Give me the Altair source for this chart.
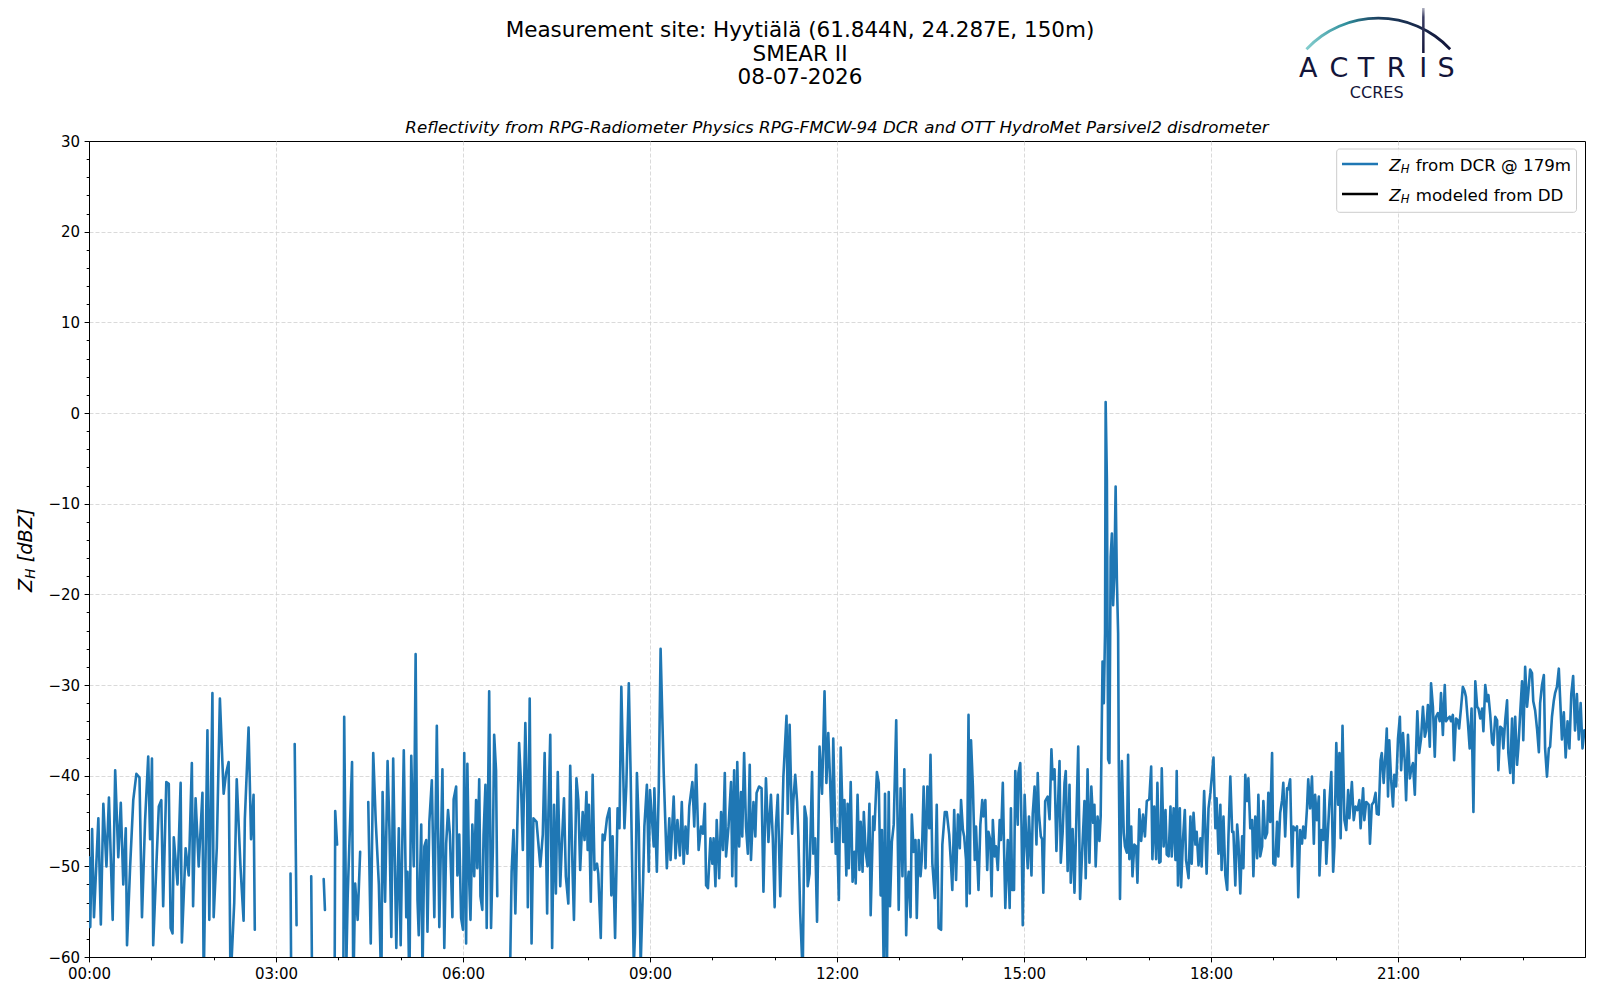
import altair as alt
import pandas as pd

# ---------------- data: (hour of day, Z_H in dBZ); None = no radar data ----------------
block_00_03 = [(0.00,-49.0),(0.02,-56.7),(0.05,-45.9),(0.08,-55.6),(0.15,-44.7),(0.19,-56.4),(0.23,-43.1),
 (0.28,-50.0),(0.32,-42.4),(0.38,-55.9),(0.42,-39.4),(0.47,-49.0),(0.51,-43.0),(0.55,-52.0),(0.59,-45.8),
 (0.61,-58.7),(0.66,-50.0),(0.71,-42.7),(0.76,-39.8),(0.81,-40.2),(0.85,-55.6),(0.90,-44.9),(0.95,-37.9),
 (0.98,-47.0),(1.01,-38.1),(1.03,-58.7),(1.08,-50.0),(1.12,-43.4),(1.16,-42.7),(1.19,-54.4),(1.24,-40.7),
 (1.28,-40.9),(1.31,-56.8),(1.34,-57.4),(1.36,-46.8),(1.42,-52.0),(1.47,-40.8),(1.49,-58.4),(1.55,-48.0),
 (1.60,-51.0),(1.65,-38.6),(1.67,-54.4),(1.71,-42.5),(1.76,-50.0),(1.82,-41.9),(1.84,-63.0),(1.90,-35.0),
 (1.93,-55.9),(1.98,-30.9),(2.00,-55.6),(2.05,-48.0),(2.10,-31.5),(2.16,-42.0),(2.20,-39.7),(2.24,-38.5),
 (2.27,-63.0),(2.33,-54.0),(2.37,-40.4),(2.43,-50.0),(2.48,-56.0),(2.50,-44.8),(2.56,-34.7),(2.60,-47.0),
 (2.64,-42.1),(2.66,-57.0),(2.70,None)]

block_03_05 = [(3.233,-50.8),(3.245,-64.0),(3.27,None),(3.30,-36.5),(3.33,-56.5),(3.45,None),
 (3.565,-51.1),(3.58,-64.0),(3.65,None),(3.765,-51.4),(3.785,-54.8),(3.85,None),
 (3.94,-64.0),(3.95,-43.9),(3.98,-47.6),(4.03,None),
 (4.08,-64.0),(4.094,-33.5),(4.13,-60.5),(4.15,-53.3),(4.22,-38.5),(4.24,-64.0),(4.27,-51.9),
 (4.31,-55.9),(4.35,-48.4),(4.41,None)]

block_04_07 = [(4.48,-42.9),(4.52,-58.5),(4.56,-37.5),(4.60,-45.0),(4.65,-52.0),(4.69,-64.0),(4.71,-41.8),
 (4.75,-53.9),(4.79,-38.4),(4.82,-46.0),(4.85,-57.8),(4.88,-38.1),(4.93,-59.0),(4.97,-45.8),(5.00,-58.7),
 (5.05,-37.2),(5.09,-55.6),(5.11,-50.6),(5.14,-64.0),(5.17,-37.8),(5.21,-50.0),(5.24,-26.6),(5.27,-53.7),
 (5.29,-57.6),(5.33,-45.4),(5.35,-62.0),(5.38,-47.8),(5.41,-47.1),(5.43,-57.2),(5.46,-45.1),(5.50,-40.5),
 (5.54,-55.6),(5.58,-34.5),(5.62,-56.7),(5.67,-39.3),(5.70,-59.0),(5.73,-47.5),(5.76,-43.8),(5.79,-46.5),
 (5.83,-55.6),(5.85,-42.6),(5.89,-41.2),(5.91,-51.0),(5.94,-46.5),(5.97,-55.7),(6.00,-57.0),(6.02,-37.5),
 (6.05,-58.5),(6.07,-38.7),(6.10,-51.7),(6.12,-55.9),(6.15,-45.4),(6.18,-51.1),(6.21,-42.7),(6.23,-50.2),
 (6.26,-40.4),(6.28,-53.3),(6.31,-54.8),(6.33,-46.5),(6.36,-41.0),(6.38,-56.8),(6.42,-30.7),(6.45,-56.8),
 (6.48,-47.8),(6.50,-35.5),(6.53,-39.4),(6.55,-53.3),(6.65,None)]

block_07_09 = [(6.75,-64.0),(6.78,-50.6),(6.81,-46.0),(6.84,-55.2),(6.90,-36.4),(6.93,-40.7),(6.96,-48.2),
 (7.00,-34.2),(7.03,-43.0),(7.04,-54.5),(7.07,-31.5),(7.10,-58.5),(7.13,-44.7),(7.18,-45.1),(7.24,-50.0),
 (7.28,-46.5),(7.31,-37.5),(7.35,-55.2),(7.37,-44.2),(7.40,-35.5),(7.43,-59.0),(7.46,-43.2),(7.49,-53.0),
 (7.52,-39.6),(7.56,-52.2),(7.59,-46.9),(7.62,-42.5),(7.65,-51.1),(7.69,-54.1),(7.72,-38.9),(7.76,-51.1),
 (7.78,-55.9),(7.82,-40.3),(7.85,-42.7),(7.88,-50.4),(7.92,-44.0),(7.95,-47.1),(7.98,-41.8),(8.00,-48.2),
 (8.02,-43.2),(8.05,-53.9),(8.08,-39.9),(8.11,-50.4),(8.15,-49.7),(8.17,-50.8),(8.21,-57.9),(8.24,-46.5),
 (8.27,-47.1),(8.31,-44.7),(8.35,-43.6),(8.38,-53.2),(8.40,-46.7),(8.44,-57.9),(8.48,-43.6),(8.51,-45.8),
 (8.54,-30.2),(8.59,-45.8),(8.62,-41.2),(8.66,-29.8),(8.69,-40.1),(8.74,-61.0),(8.76,-57.4),(8.79,-39.7),
 (8.82,-45.6),(8.85,-61.0),(8.89,-51.5),(8.91,-45.6),(8.95,-41.0),(8.98,-50.6)]

block_09_12 = [(9.00,-41.6),(9.06,-47.8),(9.07,-41.4),(9.11,-50.6),(9.14,-41.6),(9.17,-26.0),(9.22,-39.7),
 (9.27,-50.2),(9.31,-44.7),(9.33,-49.3),(9.38,-42.3),(9.41,-49.1),(9.44,-44.9),(9.48,-48.8),(9.51,-42.9),
 (9.54,-49.7),(9.57,-45.6),(9.60,-48.6),(9.63,-43.4),(9.68,-40.7),(9.71,-45.6),(9.74,-38.8),(9.78,-48.2),
 (9.82,-45.6),(9.85,-46.4),(9.88,-43.1),(9.90,-52.1),(9.93,-52.4),(9.97,-46.9),(10.00,-49.7),(10.02,-46.9),
 (10.05,-52.2),(10.07,-44.9),(10.11,-51.3),(10.14,-44.0),(10.17,-48.2),(10.20,-39.7),(10.22,-48.9),
 (10.26,-45.6),(10.30,-40.7),(10.32,-51.1),(10.35,-39.4),(10.38,-52.2),(10.40,-38.5),(10.43,-47.8),
 (10.46,-41.8),(10.48,-46.7),(10.51,-37.5),(10.54,-45.6),(10.57,-48.6),(10.60,-38.8),(10.62,-49.3),
 (10.66,-42.9),(10.69,-46.7),(10.71,-41.9),(10.75,-41.2),(10.79,-41.4),(10.82,-52.8),(10.86,-40.3),
 (10.90,-47.3),(10.94,-42.1),(10.97,-46.9),(11.00,-54.5),(11.02,-45.6),(11.05,-42.1),(11.09,-53.3),
 (11.12,-45.6),(11.14,-40.1),(11.19,-33.4),(11.21,-44.2),(11.24,-34.4),(11.28,-46.4),(11.30,-42.7),
 (11.33,-39.9),(11.36,-42.9),(11.38,-46.7),(11.41,-55.2),(11.45,-62.0),(11.48,-43.4),(11.51,-44.7),
 (11.53,-52.2),(11.56,-50.8),(11.60,-39.6),(11.62,-48.6),(11.65,-46.9),(11.68,-56.1),(11.72,-36.8),
 (11.76,-42.0),(11.80,-30.7),(11.83,-40.8),(11.86,-35.3),(11.89,-40.7),(11.92,-47.3),(11.94,-35.9),
 (11.98,-48.6)]

block_12_15 = [(12.00,-45.8),(12.03,-53.7),(12.06,-36.9),(12.10,-47.3),(12.12,-42.7),(12.15,-51.0),
 (12.17,-43.1),(12.19,-50.2),(12.22,-40.7),(12.25,-51.7),(12.28,-48.4),(12.30,-51.9),(12.33,-42.1),
 (12.36,-50.4),(12.38,-45.1),(12.41,-50.6),(12.43,-44.0),(12.46,-48.4),(12.49,-50.0),(12.52,-43.1),
 (12.54,-55.4),(12.58,-44.5),(12.60,-46.0),(12.64,-39.6),(12.67,-40.8),(12.70,-53.2),(12.72,-46.0),
 (12.75,-62.0),(12.77,-42.0),(12.80,-62.0),(12.83,-41.8),(12.85,-54.4),(12.88,-47.3),(12.91,-45.4),
 (12.95,-33.9),(12.99,-54.8),(13.02,-41.4),(13.05,-51.1),(13.08,-39.3),(13.11,-57.6),(13.13,-52.2),
 (13.15,-50.6),(13.18,-55.6),(13.20,-44.3),(13.23,-48.4),(13.26,-47.1),(13.28,-55.7),(13.31,-47.1),
 (13.34,-51.1),(13.36,-49.3),(13.39,-41.2),(13.42,-50.2),(13.45,-41.2),(13.48,-45.8),(13.50,-37.7),
 (13.53,-49.7),(13.57,-53.5),(13.60,-43.2),(13.63,-56.8),(13.67,-57.0),(13.69,-47.6),(13.73,-44.0),
 (13.76,-44.0),(13.80,-46.5),(13.83,-49.9),(13.85,-52.6),(13.88,-43.8),(13.91,-51.5),(13.94,-44.3),
 (13.97,-48.0),(13.99,-42.7),(14.02,-46.0),(14.04,-46.7),(14.07,-49.3),(14.08,-54.4),(14.11,-33.3),
 (14.13,-53.0),(14.15,-36.1),(14.18,-41.2),(14.21,-49.3),(14.23,-45.6),(14.27,-52.6),(14.30,-45.4),
 (14.33,-42.7),(14.35,-44.5),(14.38,-42.7),(14.41,-50.4),(14.43,-46.2),(14.46,-47.1),(14.48,-53.3),
 (14.50,-44.9),(14.53,-48.9),(14.55,-47.8),(14.58,-50.4),(14.61,-44.9),(14.63,-47.1),(14.66,-40.8),
 (14.68,-48.0),(14.70,-54.6),(14.74,-47.1),(14.77,-54.6),(14.79,-43.6),(14.81,-52.6),(14.84,-52.6),
 (14.86,-39.5),(14.90,-45.4),(14.91,-39.7),(14.94,-38.6),(14.96,-45.4),(14.98,-56.5)]

block_15_18 = [(15.01,-42.1),(15.04,-47.8),(15.06,-50.2),(15.08,-44.5),(15.12,-51.0),(15.14,-44.2),
 (15.17,-41.2),(15.20,-47.6),(15.22,-39.7),(15.24,-44.2),(15.27,-46.7),(15.29,-47.0),(15.31,-52.9),
 (15.34,-42.8),(15.38,-42.3),(15.41,-44.8),(15.44,-37.1),(15.46,-40.4),(15.49,-39.3),(15.52,-48.3),
 (15.54,-44.3),(15.57,-38.4),(15.59,-49.6),(15.62,-46.3),(15.65,-40.8),(15.67,-39.5),(15.70,-50.5),
 (15.73,-41.0),(15.75,-51.8),(15.78,-45.9),(15.81,-52.9),(15.84,-44.8),(15.87,-36.8),(15.90,-53.6),
 (15.93,-48.9),(15.97,-42.8),(15.99,-51.3),(16.02,-39.3),(16.05,-49.6),(16.08,-41.2),(16.11,-45.2),
 (16.13,-43.2),(16.15,-50.0),(16.18,-44.5),(16.21,-47.2),(16.23,-44.5),(16.26,-27.4),(16.28,-32.0),
 (16.30,-24.3),(16.31,1.2),(16.33,-7.4),(16.35,-38.2),(16.37,-38.6),(16.39,-15.9),(16.41,-13.3),
 (16.43,-21.2),(16.45,-17.7),(16.47,-8.1),(16.49,-18.4),(16.51,-24.3),(16.52,-38.2),(16.54,-53.6),
 (16.57,-38.4),(16.60,-46.3),(16.62,-47.8),(16.65,-48.5),(16.67,-37.7),(16.69,-49.2),(16.72,-45.6),
 (16.74,-51.1),(16.77,-47.6),(16.80,-47.8),(16.82,-51.8),(16.85,-43.7),(16.88,-47.2),(16.91,-44.3),
 (16.94,-46.7),(16.97,-42.8),(17.01,-42.6),(17.04,-39.0),(17.06,-49.2),(17.09,-43.4),(17.12,-49.2),
 (17.14,-40.8),(17.17,-49.6),(17.19,-49.5),(17.21,-39.2),(17.24,-47.8),(17.27,-43.8),(17.29,-48.7),
 (17.32,-48.9),(17.35,-43.4),(17.37,-48.9),(17.40,-43.6),(17.43,-49.3),(17.45,-39.5),(17.47,-52.1),
 (17.50,-43.6),(17.52,-52.3),(17.55,-47.1),(17.58,-43.8),(17.60,-49.3),(17.64,-51.3),(17.67,-44.5),
 (17.69,-49.7),(17.72,-44.1),(17.75,-47.6),(17.77,-46.2),(17.80,-49.9),(17.83,-46.9),(17.85,-50.0),
 (17.89,-41.7),(17.93,-50.8),(17.96,-43.6),(17.99,-41.9)]

block_18_21 = [(18.04,-38.0),(18.07,-45.8),(18.09,-42.5),(18.12,-48.6),(18.15,-43.2),(18.17,-50.4),
 (18.20,-44.5),(18.23,-51.0),(18.26,-52.6),(18.28,-46.7),(18.31,-40.1),(18.34,-46.2),(18.36,-46.2),
 (18.39,-52.1),(18.42,-45.4),(18.44,-47.3),(18.47,-53.0),(18.50,-46.7),(18.52,-50.2),(18.55,-39.9),
 (18.58,-42.8),(18.60,-40.3),(18.63,-45.8),(18.66,-44.9),(18.68,-51.1),(18.71,-44.5),(18.74,-49.1),
 (18.76,-42.1),(18.79,-48.9),(18.82,-47.8),(18.84,-42.8),(18.87,-46.9),(18.90,-46.3),(18.92,-41.9),
 (18.95,-45.1),(18.98,-37.5),(19.00,-49.7),(19.03,-49.9),(19.06,-45.1),(19.08,-48.9),(19.11,-44.1),
 (19.14,-42.7),(19.16,-40.8),(19.19,-46.7),(19.22,-41.4),(19.24,-41.5),(19.27,-40.4),(19.30,-50.0),
 (19.32,-45.6),(19.35,-46.0),(19.38,-45.6),(19.40,-53.4),(19.43,-46.0),(19.46,-47.5),(19.48,-45.6),
 (19.51,-46.9),(19.54,-43.6),(19.56,-40.4),(19.59,-43.6),(19.62,-40.1),(19.65,-47.5),(19.67,-42.1),
 (19.70,-44.9),(19.73,-42.3),(19.74,-51.0),(19.77,-46.0),(19.80,-47.1),(19.82,-41.6),(19.85,-49.7),
 (19.88,-45.6),(19.90,-42.9),(19.93,-39.6),(19.96,-50.6),(19.98,-47.8),(20.01,-36.4),(20.04,-43.2),
 (20.06,-37.5),(20.08,-46.9),(20.11,-34.5),(20.14,-44.9),(20.17,-46.0),(20.20,-41.6),(20.22,-44.7),
 (20.26,-40.7),(20.29,-44.9),(20.32,-43.4),(20.35,-43.8),(20.38,-42.7),(20.40,-45.8),(20.44,-41.4),
 (20.46,-44.9),(20.49,-42.9),(20.53,-43.2),(20.55,-47.5),(20.58,-43.2),(20.61,-42.9),(20.64,-41.9),
 (20.66,-44.2),(20.69,-44.3),(20.72,-38.3),(20.74,-37.5),(20.77,-40.8),(20.80,-37.5),(20.82,-34.8),
 (20.84,-42.3),(20.86,-36.1),(20.89,-40.5),(20.92,-43.4),(20.94,-39.9),(20.97,-41.2)]

block_21_24 = [(21.00,-35.9),(21.03,-33.5),(21.05,-39.4),(21.08,-35.3),(21.11,-38.6),(21.13,-42.7),
 (21.16,-35.5),(21.19,-40.3),(21.21,-39.4),(21.24,-38.6),(21.27,-42.1),(21.29,-37.2),(21.31,-32.9),
 (21.34,-37.5),(21.37,-35.9),(21.40,-32.4),(21.43,-35.7),(21.45,-35.1),(21.48,-32.2),(21.51,-36.8),
 (21.53,-29.8),(21.56,-32.4),(21.59,-37.9),(21.61,-33.5),(21.64,-33.1),(21.67,-34.0),(21.69,-30.9),
 (21.72,-35.5),(21.75,-30.0),(21.77,-34.0),(21.80,-33.7),(21.83,-33.5),(21.85,-34.0),(21.88,-33.3),
 (21.90,-38.3),(21.93,-33.7),(21.96,-33.9),(21.98,-34.8),(22.01,-32.6),(22.04,-30.2),(22.07,-30.7),
 (22.09,-31.3),(22.12,-34.0),(22.15,-37.0),(22.18,-32.6),(22.21,-44.0),(22.24,-29.6),(22.27,-32.4),
 (22.29,-32.6),(22.32,-33.7),(22.35,-32.6),(22.37,-35.1),(22.40,-30.0),(22.43,-31.8),(22.45,-31.1),
 (22.48,-33.3),(22.51,-36.4),(22.53,-36.6),(22.56,-33.5),(22.59,-33.9),(22.61,-39.4),(22.64,-34.6),
 (22.67,-34.8),(22.69,-37.0),(22.72,-33.9),(22.75,-31.7),(22.77,-37.5),(22.80,-39.7),(22.83,-33.7),
 (22.85,-40.8),(22.88,-33.5),(22.91,-38.8),(22.93,-37.0),(22.96,-33.1),(22.99,-29.6),(23.01,-36.1),
 (23.04,-28.0),(23.07,-32.4),(23.09,-30.9),(23.12,-28.3),(23.15,-28.7),(23.17,-31.8),(23.20,-32.8),
 (23.23,-34.8),(23.26,-37.4),(23.28,-32.0),(23.31,-30.0),(23.34,-28.9),(23.36,-37.0),(23.39,-40.1),
 (23.42,-37.0),(23.44,-36.8),(23.47,-33.5),(23.50,-31.7),(23.52,-30.9),(23.55,-30.2),(23.58,-28.2),
 (23.60,-31.3),(23.63,-36.0),(23.66,-33.0),(23.69,-38.0),(23.72,-34.0),(23.75,-37.0),(23.78,-31.0),
 (23.81,-29.0),(23.84,-35.0),(23.87,-31.0),(23.90,-36.0),(23.93,-32.0),(23.96,-37.0),(23.99,-35.0)]

x_tick_hours = list(range(0, 24))
y_tick_values = list(range(-60, 31, 2))

title_lines = ["Measurement site: Hyytiälä (61.844N, 24.287E, 150m)", "SMEAR II", "08-07-2026"]
subtitle = "Reflectivity from RPG-Radiometer Physics RPG-FMCW-94 DCR and OTT HydroMet Parsivel2 disdrometer"
legend_labels = ["from DCR @ 179m", "modeled from DD"]
legend_colors = ["#1f77b4", "black"]

blocks = [block_00_03, block_03_05, block_04_07, block_07_09, block_09_12,
          block_12_15, block_15_18, block_18_21, block_21_24]
rows = [p for b in blocks for p in b]
df = pd.DataFrame(rows, columns=["hour", "zh"])
df["zh"] = pd.to_numeric(df["zh"])
df["time"] = pd.Timestamp("2026-07-08") + pd.to_timedelta(df["hour"], unit="h")
df = df[["time", "zh"]]

FONT = "DejaVu Sans"
NAVY = "#13153a"
W, H = 1496, 816

X_TEST = "hours(datum.value) % 3 == 0"
Y_TEST = "datum.value % 10 == 0"
X_GRID = "hours(datum.value) % 3 == 0 && hours(datum.value) > 0"
Y_GRID = "datum.value % 10 == 0 && datum.value > -60 && datum.value < 30"

x_axis = alt.Axis(
    values=[alt.DateTime(year=2026, month=7, date=8, hours=h) for h in x_tick_hours],
    format="%H:%M",
    labelExpr=f"{X_TEST} ? datum.label : ''",
    labelFlush=False, labelOverlap=False,
    tickSize={"condition": {"test": X_TEST, "value": 4.9}, "value": 2.8},
    gridOpacity={"condition": {"test": X_GRID, "value": 1}, "value": 0},
    labelPadding=4.5, labelFontSize=15,
)
y_axis = alt.Axis(
    values=y_tick_values,
    labelExpr=f"{Y_TEST} ? datum.label : ''",
    labelOverlap=False,
    tickSize={"condition": {"test": Y_TEST, "value": 4.9}, "value": 2.8},
    gridOpacity={"condition": {"test": Y_GRID, "value": 1}, "value": 0},
    labelPadding=4.5, labelFontSize=15,
)

line = alt.Chart(df).mark_line(
    color="#1f77b4", strokeWidth=2.6, strokeJoin="round", strokeCap="round", clip=True
).encode(
    x=alt.X("time:T", title=None, axis=x_axis,
            scale=alt.Scale(domain=[alt.DateTime(year=2026, month=7, date=8, hours=0),
                                    alt.DateTime(year=2026, month=7, date=9, hours=0)])),
    y=alt.Y("zh:Q", title=None, axis=y_axis, scale=alt.Scale(domain=[-60, 30], nice=False)),
)

one = pd.DataFrame({"k": [0]})


def txt(s, x, y, size, style="normal", align="center", angle=None, color="black", font=FONT):
    kw = dict(text=s, fontSize=size, fontStyle=style, align=align, baseline="alphabetic",
              color=color, font=font)
    if angle is not None:
        kw["angle"] = angle
    return alt.Chart(one).mark_text(**kw).encode(x=alt.value(x), y=alt.value(y))


layers = [line]

# figure titles
for s, yb in zip(title_lines, [-104.0, -80.5, -57.0]):
    layers.append(txt(s, 711, yb, 21.5))
layers.append(txt(subtitle, W / 2, -8.3, 16.67, style="italic"))

# y-axis title Z_H [dBZ]
layers.append(txt("Z", -57.4, 451, 19.4, style="italic", align="left", angle=270))
layers.append(txt("H", -54.2, 437.7, 13.6, style="italic", align="left", angle=270))
layers.append(txt("[dBZ]", -57.4, 421.3, 19.4, style="italic", align="left", angle=270))

# legend
layers.append(alt.Chart(one).mark_rect(fill="white", fillOpacity=0.8, stroke="#cccccc",
                                       strokeWidth=1, cornerRadius=3)
              .encode(x=alt.value(1247.7), x2=alt.value(1487.5), y=alt.value(8), y2=alt.value(71.3)))
for i, (lab, col) in enumerate(zip(legend_labels, legend_colors)):
    yl = 23 + 30 * i
    layers.append(alt.Chart(one).mark_rule(color=col, strokeWidth=2.6)
                  .encode(x=alt.value(1253), x2=alt.value(1289), y=alt.value(yl)))
    layers.append(txt("Z", 1300.3, yl + 6.7, 16.67, style="italic", align="left"))
    layers.append(txt("H", 1311.7, yl + 9.4, 11.7, style="italic", align="left"))
    layers.append(txt(lab, 1326.7, yl + 6.7, 16.67, align="left"))

# ACTRIS / CCRES logo
arc_grad = alt.LinearGradient(gradient="linear", x1=0, y1=0, x2=1, y2=0, stops=[
    alt.GradientStop(offset=0, color="#86cfcf"),
    alt.GradientStop(offset=0.28, color="#2f8f9c"),
    alt.GradientStop(offset=0.5, color="#1d3e5e"),
    alt.GradientStop(offset=1, color=NAVY)])
layers.append(alt.Chart(one).mark_arc(theta=5.4667, theta2=7.0997, radius=100.0, radius2=97.2, fill=arc_grad)
              .encode(x=alt.value(1289.3), y=alt.value(-24.3)))
bar_grad = alt.LinearGradient(gradient="linear", x1=0, y1=0, x2=0, y2=1, stops=[
    alt.GradientStop(offset=0, color="#ffffff"),
    alt.GradientStop(offset=0.3, color="#3a3d63"),
    alt.GradientStop(offset=1, color=NAVY)])
layers.append(alt.Chart(one).mark_rect(fill=bar_grad)
              .encode(x=alt.value(1333.1), x2=alt.value(1335.6), y=alt.value(-139.3), y2=alt.value(-88)))
for ch, xc in zip("ACTRIS", [1219.3, 1250, 1277, 1307, 1334.3, 1357]):
    layers.append(txt(ch, xc, -64.3, 27, color=NAVY))
layers.append(txt("CCRES", 1287.7, -42.7, 16, color=NAVY))

chart = alt.layer(*layers).properties(
    width=W, height=H,
    autosize=alt.AutoSizeParams(type="none"),
    padding={"left": 81, "top": 133, "right": 7, "bottom": 30},
).configure_view(stroke="black", strokeWidth=1).configure_axis(
    domainColor="black", domainWidth=1, tickColor="black", tickWidth=1,
    labelColor="black", labelFont=FONT, gridColor="#d0d0d0", gridDash=[4, 2], gridWidth=0.8,
)

chart.save("out.html", embed_options={"renderer": "svg", "actions": False})
